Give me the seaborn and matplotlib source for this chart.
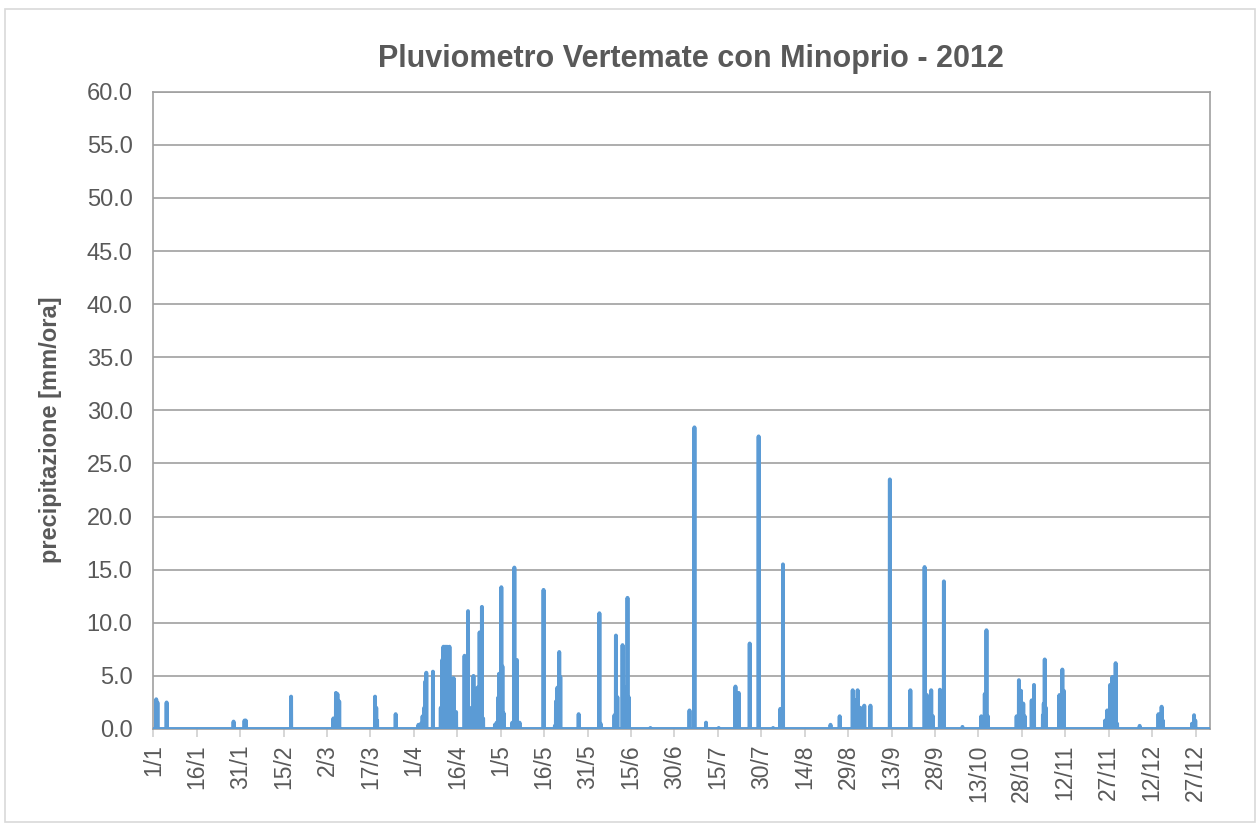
import numpy as np
import pandas as pd
import matplotlib.pyplot as plt
import seaborn as sns
from matplotlib.patches import Rectangle

# rain events: day of year (0 = 1 Jan) and mm/ora
event_day = [
    1.0, 1.4, 4.6, 27.7, 31.5, 31.9,
    47.6,
    62.2, 63.1, 63.6, 64.2, 76.6, 77.0, 77.3, 83.7,
    91.6, 92.4, 93.0, 93.6, 94.0, 94.3, 96.6, 99.3, 99.8, 100.2, 100.8, 101.4,
    102.0, 102.3, 103.7, 104.6, 107.5, 108.0, 108.7, 109.2, 110.2, 110.6, 111.4,
    112.0, 112.7, 113.5, 113.9,
    118.0, 118.6, 119.2, 119.4, 120.2, 120.6, 121.0, 124.0, 124.7, 125.6, 126.5,
    134.8, 138.7, 139.1, 139.6, 140.2, 140.6, 146.9,
    154.1, 154.5, 159.3, 159.8, 160.3, 162.1, 162.6, 163.8, 164.2, 171.7,
    185.2, 186.9, 190.9, 195.3, 201.1, 202.2, 206.0, 209.1,
    214.1, 216.6, 217.5, 233.9, 237.1, 241.6, 242.4, 243.3, 244.2, 245.6, 247.7,
    254.4, 261.5, 266.4, 267.2, 268.7, 269.3, 271.7, 273.1,
    279.5, 286.0, 287.2, 287.8, 288.3, 298.2, 299.0, 299.7, 300.5, 301.0, 303.4,
    304.2, 307.3, 307.6, 307.9, 308.3, 313.0, 314.0, 314.5,
    328.8, 329.5, 330.5, 331.3, 332.4, 332.9, 340.7, 347.2, 348.3, 348.7,
    358.8, 359.5, 359.9,
]
event_mm = [
    2.8, 2.5, 2.5, 0.7, 0.8, 0.8,
    3.05,
    1.0, 3.4, 3.3, 2.6, 3.05, 2.0, 0.8, 1.4,
    0.4, 0.5, 1.2, 2.0, 4.5, 5.3, 5.4, 2.0, 6.5, 7.75, 7.75, 7.75,
    7.7, 7.75, 4.8, 1.6, 6.9, 4.0, 11.1, 2.0, 1.5, 5.0, 3.0,
    3.9, 9.1, 11.5, 1.0,
    0.4, 0.6, 3.0, 5.2, 13.35, 5.9, 1.5, 0.6, 15.2, 6.5, 0.6,
    13.1, 0.3, 2.6, 3.9, 7.25, 4.9, 1.4,
    10.9, 0.5, 1.3, 8.8, 3.0, 7.9, 4.0, 12.35, 3.0, 0.1,
    1.75, 28.4, 0.6, 0.1, 4.0, 3.4, 8.05, 27.55,
    0.1, 1.9, 15.5, 0.4, 1.2, 3.65, 2.7, 3.65, 2.0, 2.2, 2.2,
    23.5, 3.65, 15.25, 3.2, 3.65, 1.2, 3.7, 13.9,
    0.2, 1.2, 3.3, 9.3, 1.2, 1.2, 4.6, 3.6, 2.4, 1.2, 2.7,
    4.15, 1.3, 2.4, 6.55, 2.0, 3.2, 5.6, 3.6,
    0.8, 1.75, 4.15, 4.9, 6.2, 0.5, 0.3, 1.4, 2.1, 0.8,
    0.5, 1.3, 0.8,
]

tick_days = list(range(0, 361, 15))
tick_labels = ['1/1', '16/1', '31/1', '15/2', '2/3', '17/3', '1/4', '16/4', '1/5',
               '16/5', '31/5', '15/6', '30/6', '15/7', '30/7', '14/8', '29/8',
               '13/9', '28/9', '13/10', '28/10', '12/11', '27/11', '12/12', '27/12']

# hourly series for the year, dry hours at 0
n_hours = 365 * 24
rain = np.zeros(n_hours)
idx = np.round(np.array(event_day) * 24).astype(int)
rain[idx] = event_mm
df = pd.DataFrame({'giorno': np.arange(n_hours) / 24, 'pioggia': rain})

sns.set_theme(style='white')
plt.rcParams['font.family'] = ['Liberation Sans', 'DejaVu Sans']

text_col = '#595959'
grid_col = '#a0a0a0'

fig = plt.figure(figsize=(12.6, 8.24), dpi=100)
ax = fig.add_axes([0.1217, 0.1153, 0.8386, 0.7734])

sns.lineplot(data=df, x='giorno', y='pioggia', ax=ax, color='#5b9bd5',
             linewidth=2.8, estimator=None, zorder=3)

ax.set_xlim(0, 365)
ax.set_ylim(0, 60)
ax.set_yticks(np.arange(0, 61, 5))
ax.set_yticklabels([f'{v:.1f}' for v in np.arange(0, 61, 5)])
ax.set_xticks(tick_days)
ax.set_xticklabels(tick_labels, rotation=90)

ax.yaxis.grid(True, color=grid_col, linewidth=1.2)
ax.xaxis.grid(False)
for s in ax.spines.values():
    s.set_color(grid_col)
    s.set_linewidth(1.2)

ax.tick_params(axis='y', length=0, pad=15, labelsize=17, labelcolor=text_col)
ax.tick_params(axis='x', length=6, width=1.2, color='#d0d0d0', pad=5,
               labelsize=16.5, labelcolor=text_col, bottom=True)

ax.set_xlabel('')
ax.set_ylabel('precipitazione [mm/ora]', fontsize=17, fontweight='bold', color=text_col)
ax.yaxis.set_label_coords(-0.0867, 0.47)

fig.text(0.5485, 0.919, 'Pluviometro Vertemate con Minoprio - 2012', ha='center',
         va='baseline', fontsize=22, fontweight='bold', color=text_col)

fig.patches.append(Rectangle((5 / 1260, 0.002), 1250 / 1260, 1 - 9 / 824 - 0.002,
                             transform=fig.transFigure, fill=False,
                             edgecolor='#d9d9d9', linewidth=1.2))

fig.savefig('out.png', dpi=100)
